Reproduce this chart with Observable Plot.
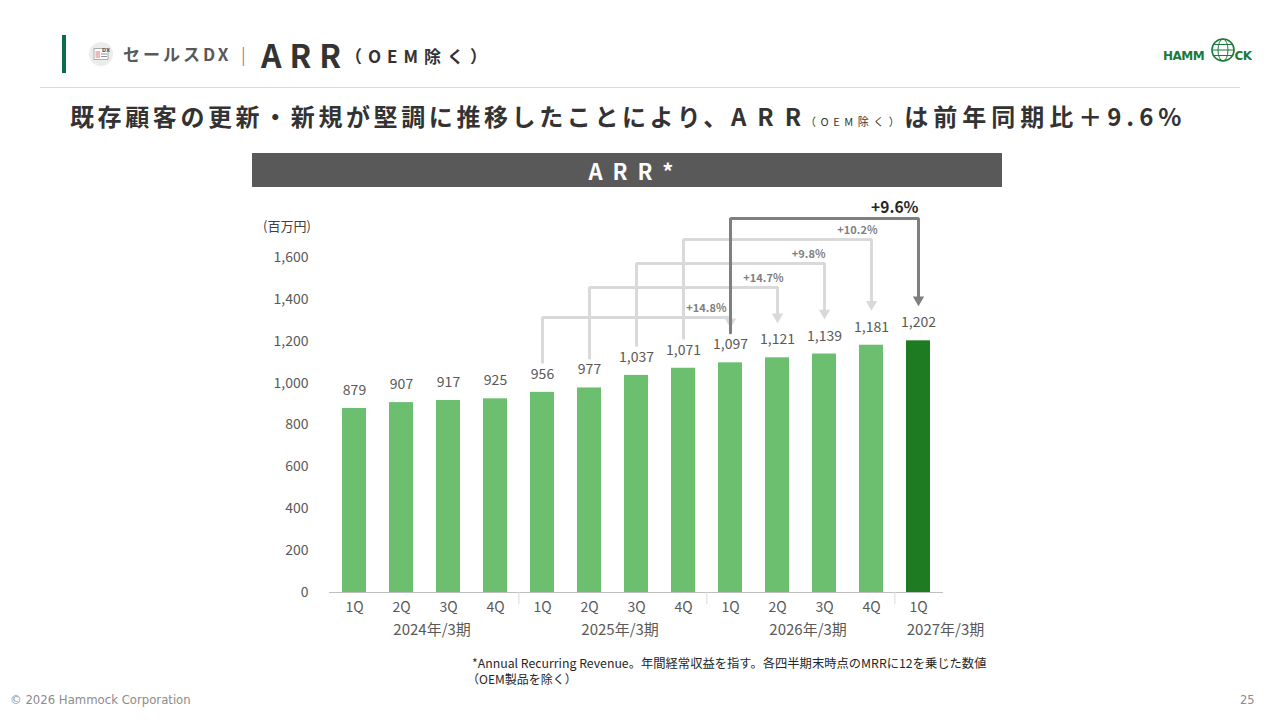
<!DOCTYPE html>
<html><head><meta charset="utf-8">
<script src="https://cdn.jsdelivr.net/npm/d3@7"></script>
<script src="https://cdn.jsdelivr.net/npm/@observablehq/plot@0.6"></script>
<style>
body{margin:0;width:1280px;height:720px;overflow:hidden;background:#fff;font-family:"Noto Sans CJK JP","Noto Sans",sans-serif;position:relative}
.abs{position:absolute;white-space:nowrap;line-height:1}
</style></head><body>
<div class="abs" style="left:62px;top:35px;width:4px;height:38px;background:#0c6b48"></div>
<svg class="abs" style="left:88px;top:41px" width="26" height="26" viewBox="0 0 26 26">
  <circle cx="13" cy="13" r="12" fill="#ececec"/>
  <rect x="6" y="7.5" width="14" height="11" fill="#fff" stroke="#9a9a9a" stroke-width="0.8"/>
  <rect x="7.5" y="10" width="4.5" height="7" fill="#f2b8b8"/>
  <line x1="13" y1="13" x2="19" y2="13" stroke="#777" stroke-width="0.8"/>
  <line x1="13" y1="15.5" x2="19" y2="15.5" stroke="#777" stroke-width="0.8"/>
  <text x="14" y="10.5" font-size="5" font-weight="bold" fill="#555" font-family="DejaVu Sans">DX</text>
</svg>
<div class="abs" style="left:123px;top:45px;font-size:17px;font-weight:bold;color:#595959;letter-spacing:3px">セールスDX</div>
<div class="abs" style="left:241px;top:45px;font-size:17px;color:#8c8c8c">|</div>
<div class="abs" style="left:261px;top:38px;font-size:32px;font-weight:bold;color:#333;letter-spacing:8px">ARR</div>
<div class="abs" style="left:345px;top:47px;font-size:17px;font-weight:bold;color:#333;letter-spacing:6px">（OEM除く）</div>
<svg class="abs" style="left:1160px;top:36px" width="92" height="30" viewBox="0 0 92 30">
  <text x="3" y="24" font-size="12" font-weight="bold" fill="#1a7a3a" font-family="DejaVu Sans" letter-spacing="-0.5">HAMM</text>
  <circle cx="63" cy="14" r="11" fill="none" stroke="#1a7a3a" stroke-width="1.6"/>
  <ellipse cx="63" cy="14" rx="5" ry="11" fill="none" stroke="#1a7a3a" stroke-width="1"/>
  <line x1="52" y1="14" x2="74" y2="14" stroke="#1a7a3a" stroke-width="1"/>
  <line x1="54" y1="8.5" x2="72" y2="8.5" stroke="#1a7a3a" stroke-width="1"/>
  <line x1="54" y1="19.5" x2="72" y2="19.5" stroke="#1a7a3a" stroke-width="1"/>
  <text x="74.5" y="24" font-size="12" font-weight="bold" fill="#1a7a3a" font-family="DejaVu Sans" letter-spacing="-0.5">CK</text>
</svg>
<div class="abs" style="left:40px;top:87px;width:1200px;height:1px;background:#d9d9d9"></div>
<div class="abs" style="left:70px;top:104px;font-size:24px;font-weight:bold;color:#333;letter-spacing:3.6px">既存顧客の更新・新規が堅調に推移したことにより、<span style="letter-spacing:11px;margin-right:-7px">ARR</span><span style="font-size:11px;font-weight:normal;letter-spacing:4.5px">（OEM除く）</span><span style="letter-spacing:5px">は前年同期比＋9.6%</span></div>
<div class="abs" style="left:252px;top:153px;width:750px;height:34px;background:#595959;color:#fff;font-size:22px;font-weight:bold;letter-spacing:10px;text-align:center;line-height:34px;box-sizing:border-box;padding-left:18px">ARR*</div>
<div class="abs" style="left:263px;top:219px;font-size:13px;color:#404040">(百万円)</div>
<div id="chart" class="abs" style="left:250px;top:195px"></div>
<div class="abs" style="left:472px;top:657px;font-size:12.3px;color:#262626">*Annual Recurring Revenue。年間経常収益を指す。各四半期末時点のMRRに12を乗じた数値</div>
<div class="abs" style="left:467px;top:673px;font-size:12px;color:#262626">（OEM製品を除く）</div>
<div class="abs" style="left:10px;top:695px;font-size:11.7px;color:#8c8c8c;font-family:'DejaVu Sans'">© 2026 Hammock Corporation</div>
<div class="abs" style="left:1240px;top:695px;font-size:11.5px;color:#8c8c8c;font-family:'DejaVu Sans'">25</div>
<script>
// ---- data ----
const quarters = ["1Q","2Q","3Q","4Q","1Q","2Q","3Q","4Q","1Q","2Q","3Q","4Q","1Q"];
const fiscalYears = ["2024年/3期","2024年/3期","2024年/3期","2024年/3期","2025年/3期","2025年/3期","2025年/3期","2025年/3期","2026年/3期","2026年/3期","2026年/3期","2026年/3期","2027年/3期"];
const arrValues = [879, 907, 917, 925, 956, 977, 1037, 1071, 1097, 1121, 1139, 1181, 1202];
const yTicks = [0, 200, 400, 600, 800, 1000, 1200, 1400, 1600];
const yearLabels = ["2024年/3期","2025年/3期","2026年/3期","2027年/3期"];
const yoyFrom = [4, 5, 6, 7, 8];
const yoyTo = [8, 9, 10, 11, 12];
const yoyLabels = ["+14.8%","+14.7%","+9.8%","+10.2%","+9.6%"];
const yoyLevels = [1313, 1457, 1571, 1686, 1786];

// ---- build ----
const ids = arrValues.map((_, i) => fiscalYears[i] + "|" + quarters[i]);
const rows = arrValues.map((v, i) => ({id: ids[i], v, last: i === arrValues.length - 1}));
const W = 750, H = 450, mL = 79, mR = 57, mT = 62, mB = 53;
const step = (W - mL - mR) / ids.length;
const unitsPerPx = 1600 / (H - mT - mB);

const arrows = yoyFrom.map((f, k) => {
  const t = yoyTo[k];
  const bottom = arrValues[f] + 30 * unitsPerPx;
  const end = arrValues[t] + 44 * unitsPerPx;
  return {k, main: k === yoyFrom.length - 1, label: yoyLabels[k], to: ids[t], level: yoyLevels[k], end,
    pts: [{x: ids[f], y: bottom, k}, {x: ids[f], y: yoyLevels[k], k}, {x: ids[t], y: yoyLevels[k], k}, {x: ids[t], y: end, k}]};
});
const lightArrows = arrows.filter(a => !a.main);
const mainArrows = arrows.filter(a => a.main);
const labelShift = [-4, 6, 1, 6]; // small horizontal nudges of the light labels (px)

const yearRows = yearLabels.map(y => {
  const idx = fiscalYears.map((f, i) => f === y ? i : -1).filter(i => i >= 0);
  return {label: y, at: ids[idx.length > 1 ? idx[1] : idx[0]], n: idx.length};
});
const groupStarts = ids.filter((d, i) => i > 0 && fiscalYears[i] !== fiscalYears[i - 1]);

const font = '"Noto Sans CJK JP","Noto Sans",sans-serif';
const chart = Plot.plot({
  width: W, height: H, marginLeft: mL, marginRight: mR, marginTop: mT, marginBottom: mB,
  style: {fontFamily: font, fontSize: "14px", color: "#595959", overflow: "visible", background: "transparent"},
  x: {domain: ids, paddingInner: 0.5, paddingOuter: 0.25, axis: null},
  y: {domain: [0, 1600], axis: null},
  marks: [
    Plot.axisY({ticks: yTicks, tickSize: 0, tickPadding: 21, tickFormat: d3.format(","), fontSize: 14}),
    Plot.axisX({tickSize: 0, tickPadding: 10, tickFormat: d => d.split("|")[1], fontSize: 14}),
    Plot.barY(rows.filter(d => !d.last), {x: "id", y: "v", fill: "#6dbf70"}),
    Plot.barY(rows.filter(d => d.last), {x: "id", y: "v", fill: "#1e7b22"}),
    Plot.ruleY([0], {stroke: "#bfbfbf", strokeWidth: 1}),
    Plot.ruleX(groupStarts, {x: d => d, dx: -step / 2, y1: 0, y2: -12 * unitsPerPx, stroke: "#d9d9d9"}),
    Plot.text(yearRows.filter(d => d.n > 1), {x: "at", y: 0, text: "label", dy: 38, dx: step / 2 + 7, fontSize: 15, fill: "#595959"}),
    Plot.text(yearRows.filter(d => d.n === 1), {x: "at", y: 0, text: "label", dy: 38, dx: 27, fontSize: 15, fill: "#595959"}),
    Plot.text(rows, {x: "id", y: "v", text: d => d3.format(",")(d.v), dy: -18, fontSize: 14, fill: "#595959"}),
    Plot.line(lightArrows.flatMap(a => a.pts), {x: "x", y: "y", z: "k", stroke: "#d9d9d9", strokeWidth: 3, strokeLinejoin: "miter"}),
    Plot.dot(lightArrows, {x: "to", y: "end", symbol: "triangle", r: 4.2, rotate: 180, fill: "#d9d9d9", dy: 3}),
    Plot.line(mainArrows.flatMap(a => a.pts), {x: "x", y: "y", z: "k", stroke: "#7f7f7f", strokeWidth: 3, strokeLinejoin: "miter"}),
    Plot.dot(mainArrows, {x: "to", y: "end", symbol: "triangle", r: 4.2, rotate: 180, fill: "#7f7f7f", dy: 3}),
    ...lightArrows.map((a, i) => Plot.text([a], {x: "to", y: "level", text: "label", textAnchor: "end", dx: labelShift[i], dy: -9,
      fontSize: 11, fontWeight: "bold", fill: "#7f7f7f", style: "letter-spacing:1.5px"})),
    Plot.text(mainArrows, {x: "to", y: "level", text: "label", textAnchor: "end", dx: 0, dy: -11,
      fontSize: 15.5, fontWeight: "bold", fill: "#262626"})
  ]
});
document.getElementById("chart").appendChild(chart);
</script>
</body></html>
